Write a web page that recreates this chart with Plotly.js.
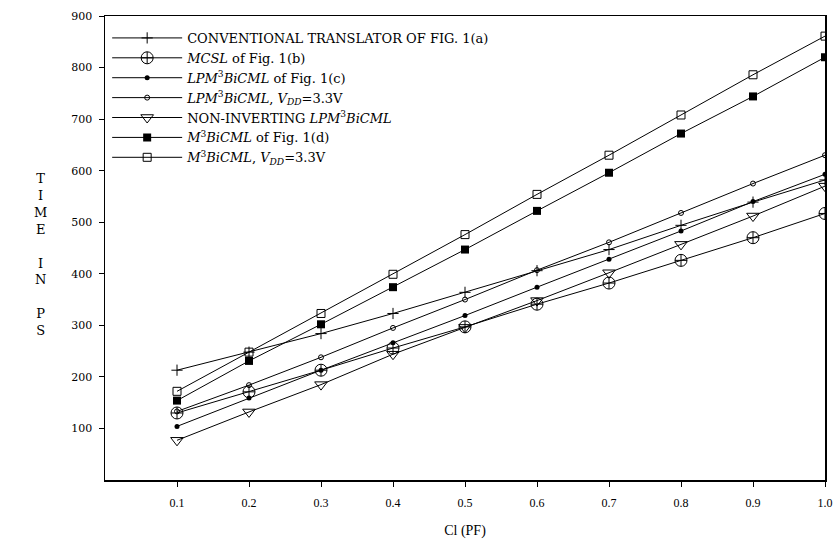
<!DOCTYPE html>
<html>
<head>
<meta charset="utf-8">
<script src="https://cdn.plot.ly/plotly-3.0.1.min.js"></script>
<style>html,body{margin:0;padding:0;background:#fff;}#chart{width:835px;height:548px;}</style>
</head>
<body>
<div id="chart"></div>
<script>
var loadCap = [0.1, 0.2, 0.3, 0.4, 0.5, 0.6, 0.7, 0.8, 0.9, 1.0];
var conventional = [213, 248, 284, 323, 364, 406, 447, 494, 539, 582];
var mcsl = [130, 171, 213, 256, 297, 341, 382, 426, 470, 517];
var lpmFig1c = [104, 159, 213, 266, 319, 374, 428, 483, 540, 593];
var lpm33 = [133, 184, 238, 295, 350, 407, 461, 518, 575, 630];
var nonInverting = [77, 132, 185, 244, 296, 348, 402, 457, 512, 570];
var m3Fig1d = [154, 231, 302, 374, 447, 522, 596, 672, 744, 820];
var m33 = [172, 248, 323, 399, 476, 554, 630, 708, 786, 861];

var xTicks = [0.1, 0.2, 0.3, 0.4, 0.5, 0.6, 0.7, 0.8, 0.9, 1.0];
var xTickText = ['0.1', '0.2', '0.3', '0.4', '0.5', '0.6', '0.7', '0.8', '0.9', '1.0'];
var yTicks = [100, 200, 300, 400, 500, 600, 700, 800, 900];

var names = [
  'CONVENTIONAL TRANSLATOR OF FIG. 1(a)',
  '<i>MCSL</i> of Fig. 1(b)',
  '<i>LPM</i><sup>3</sup><i>BiCML</i> of Fig. 1(c)',
  '<i>LPM</i><sup>3</sup><i>BiCML</i>, <i>V</i><sub><i>DD</i></sub>=3.3V',
  'NON-INVERTING <i>LPM</i><sup>3</sup><i>BiCML</i>',
  '<i>M</i><sup>3</sup><i>BiCML</i> of Fig. 1(d)',
  '<i>M</i><sup>3</sup><i>BiCML</i>, <i>V</i><sub><i>DD</i></sub>=3.3V'
];
var series = [conventional, mcsl, lpmFig1c, lpm33, nonInverting, m3Fig1d, m33];
var markers = [
  {symbol: 'cross-thin-open', size: 8, color: '#000', line: {width: 1, color: '#000'}},
  {symbol: 'circle-cross-open', size: 12, color: '#000', line: {width: 1, color: '#000'}},
  {symbol: 'circle', size: 5, color: '#000', line: {width: 0, color: '#000'}},
  {symbol: 'circle-open', size: 5, color: '#000', line: {width: 1, color: '#000'}},
  {symbol: 'triangle-down-open', size: 11, color: '#000', line: {width: 1, color: '#000'}},
  {symbol: 'square', size: 8, color: '#000', line: {width: 0, color: '#000'}},
  {symbol: 'square-open', size: 8, color: '#000', line: {width: 1, color: '#000'}}
];

var traces = series.map(function (s, i) {
  return {
    x: loadCap, y: s, name: names[i], type: 'scatter', mode: 'lines+markers',
    line: {color: '#000', width: 1}, marker: markers[i]
  };
});

var serif = 'Liberation Serif, DejaVu Serif, serif';
var wide = 'DejaVu Serif, Liberation Serif, serif';
var layout = {
  width: 835, height: 548,
  margin: {l: 105, r: 10, t: 16, b: 68},
  paper_bgcolor: '#fff', plot_bgcolor: '#fff',
  font: {family: serif, color: '#000', size: 12},
  showlegend: true,
  legend: {x: 0.003, y: 0.985, xanchor: 'left', yanchor: 'top', bgcolor: 'rgba(0,0,0,0)',
           font: {family: wide, size: 13, color: '#000'}, tracegroupgap: 0, itemwidth: 70},
  xaxis: {range: [0, 1], tickvals: xTicks, ticktext: xTickText, ticks: 'outside', ticklen: 5,
          tickcolor: '#000', showgrid: false, zeroline: false, showline: true, linecolor: '#000',
          linewidth: 1.5, mirror: true, tickfont: {family: serif, size: 12},
          ticklabelstandoff: 6,
          title: {text: 'Cl (PF)', font: {family: serif, size: 14}, standoff: 16}},
  yaxis: {range: [0, 900], tickvals: yTicks, ticks: 'outside', ticklen: 5, tickcolor: '#000',
          showgrid: false, zeroline: false, showline: true, linecolor: '#000', linewidth: 1.5,
          mirror: true, tickfont: {family: wide, size: 11}, ticklabelstandoff: 4},
  annotations: [{
    xref: 'paper', yref: 'paper', x: -0.09, y: 0.485, xanchor: 'center', yanchor: 'middle',
    showarrow: false, align: 'center',
    text: 'T<br>I<br>M<br>E<br><br>I<br>N<br><br>P<br>S',
    font: {family: wide, size: 13, color: '#000'}
  }]
};

Plotly.newPlot('chart', traces, layout, {staticPlot: true, displayModeBar: false});
</script>
</body>
</html>
